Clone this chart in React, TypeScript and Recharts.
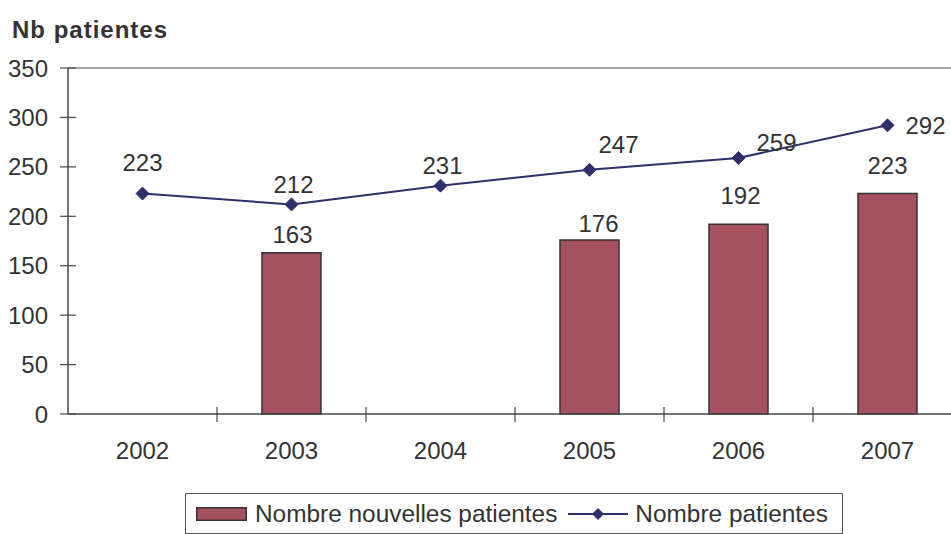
import { ComposedChart, Bar, Line, XAxis, YAxis, ReferenceLine, LabelList, Legend } from 'recharts'

const years = ['2002', '2003', '2004', '2005', '2006', '2007']
const newPatients = [null, 163, null, 176, 192, 223]
const totalPatients = [223, 212, 231, 247, 259, 292]
const yTicks = [0, 50, 100, 150, 200, 250, 300, 350]

// label nudges, as placed in the original
const lineLabelDx = [0, 2, 2, 29, 38, 38]
const lineLabelDy = [-31, -20, -20, -25, -15, 0]
const barLabelDx = [0, 1, 0, 9, 2, 0]
const barLabelDy = [0, -18, 0, -17, -29, -28]

const data = years.map((year, i) => ({
  year,
  nouvelles: newPatients[i],
  patientes: totalPatients[i],
}))

const BAR = '#a5515f'
const LINE = '#2e2f6b'
const AXIS = '#4a4646'
const TEXT = '#333333'
const FONT = '"Liberation Sans", Arial, sans-serif'

const YTick = (props: any) => {
  const { x, y, payload } = props
  return (
    <g>
      <line x1={x - 8} x2={x + 8} y1={y} y2={y} stroke={AXIS} strokeWidth={1.2} />
      <text x={x - 20} y={y} textAnchor="end" dominantBaseline="central" fontSize={24} fill={TEXT} fontFamily={FONT}>
        {payload.value}
      </text>
    </g>
  )
}

const XTick = (props: any) => {
  const { x, y, payload, index, visibleTicksCount } = props
  const band = (props.width ?? 894) / (visibleTicksCount ?? years.length)
  const left = x - band / 2
  const right = x + band / 2
  return (
    <g>
      {index > 0 && <line x1={left} x2={left} y1={y - 7} y2={y + 8} stroke={AXIS} strokeWidth={1.2} />}
      {index === (visibleTicksCount ?? years.length) - 1 && (
        <line x1={right} x2={right} y1={y - 7} y2={y + 8} stroke={AXIS} strokeWidth={1.2} />
      )}
      <text x={x} y={y + 36} textAnchor="middle" dominantBaseline="central" fontSize={24} fill={TEXT} fontFamily={FONT}>
        {payload.value}
      </text>
    </g>
  )
}

const Diamond = (props: any) => {
  const { cx, cy, index } = props
  if (cx == null || cy == null) return <g key={index} />
  const r = 6.5
  return (
    <polygon
      key={index}
      points={`${cx},${cy - r} ${cx + r},${cy} ${cx},${cy + r} ${cx - r},${cy}`}
      fill={LINE}
      stroke={LINE}
    />
  )
}

const LineLabel = (props: any) => {
  const { x, y, value, index } = props
  return (
    <text
      x={x + lineLabelDx[index]}
      y={y + lineLabelDy[index]}
      textAnchor="middle"
      dominantBaseline="central"
      fontSize={24}
      fill={TEXT}
      fontFamily={FONT}
    >
      {value}
    </text>
  )
}

// the label list is keyed on the year, so empty bars do not shift the nudges
const BarLabel = (props: any) => {
  const { x, y, width, value } = props
  const i = years.indexOf(String(value))
  if (i < 0 || newPatients[i] == null) return null
  return (
    <text
      x={x + width / 2 + barLabelDx[i]}
      y={y + barLabelDy[i]}
      textAnchor="middle"
      dominantBaseline="central"
      fontSize={24}
      fill={TEXT}
      fontFamily={FONT}
    >
      {newPatients[i]}
    </text>
  )
}

const LegendBox = (props: any) => {
  const { payload } = props
  return (
    <div
      style={{
        boxSizing: 'border-box',
        width: 658,
        height: 41,
        border: `1px solid #555`,
        display: 'flex',
        alignItems: 'center',
        paddingLeft: 10,
        fontFamily: FONT,
        fontSize: 24.4,
        color: TEXT,
        background: '#fff',
      }}
    >
      {(payload ?? []).map((entry: any) =>
        entry.type === 'rect' ? (
          <div key={entry.value} style={{ display: 'flex', alignItems: 'center' }}>
            <svg width={51} height={14} style={{ marginRight: 8 }}>
              <rect x={0.75} y={0.75} width={49.5} height={12.5} fill={BAR} stroke={TEXT} strokeWidth={1.5} />
            </svg>
            <span style={{ marginRight: 11 }}>{entry.value}</span>
          </div>
        ) : (
          <div key={entry.value} style={{ display: 'flex', alignItems: 'center' }}>
            <svg width={60} height={14} style={{ marginRight: 7 }}>
              <line x1={0} x2={60} y1={7} y2={7} stroke={LINE} strokeWidth={2} />
              <polygon points="30,1 36,7 30,13 24,7" fill={LINE} />
            </svg>
            <span>{entry.value}</span>
          </div>
        )
      )}
    </div>
  )
}

export default function App() {
  return (
    <div style={{ position: 'fixed', left: 0, top: 0, width: 951, height: 534, overflow: 'hidden', background: '#fff' }}>
      <div
        style={{
          position: 'absolute',
          left: 12,
          top: 16,
          fontFamily: FONT,
          fontWeight: 'bold',
          fontSize: 24,
          letterSpacing: 1,
          color: TEXT,
          zIndex: 2,
        }}
      >
        Nb patientes
      </div>
      <ComposedChart width={970} height={534} data={data} margin={{ top: 68, right: 8, left: 0, bottom: 60 }}>
        <ReferenceLine y={350} stroke="#8f8a8a" strokeWidth={1.5} />
        <XAxis
          dataKey="year"
          height={60}
          tickLine={false}
          tickSize={0}
          tickMargin={0}
          tick={<XTick />}
          axisLine={{ stroke: AXIS, strokeWidth: 1.5 }}
          interval={0}
        />
        <YAxis
          width={68}
          domain={[0, 350]}
          ticks={yTicks}
          tickLine={false}
          tickSize={0}
          tickMargin={0}
          tick={<YTick />}
          axisLine={{ stroke: AXIS, strokeWidth: 1.5 }}
          interval={0}
        />
        <Legend
          layout="vertical"
          align="center"
          verticalAlign="middle"
          wrapperStyle={{ left: 185, top: 493, width: 658, height: 41 }}
          content={<LegendBox />}
        />
        <Bar
          dataKey="nouvelles"
          name="Nombre nouvelles patientes"
          legendType="rect"
          fill={BAR}
          stroke={TEXT}
          strokeWidth={1.5}
          barSize={59}
          isAnimationActive={false}
        >
          <LabelList dataKey="year" content={<BarLabel />} />
        </Bar>
        <Line
          dataKey="patientes"
          name="Nombre patientes"
          legendType="diamond"
          type="linear"
          stroke={LINE}
          strokeWidth={2}
          dot={<Diamond />}
          activeDot={false}
          isAnimationActive={false}
        >
          <LabelList dataKey="patientes" content={<LineLabel />} />
        </Line>
      </ComposedChart>
    </div>
  )
}
